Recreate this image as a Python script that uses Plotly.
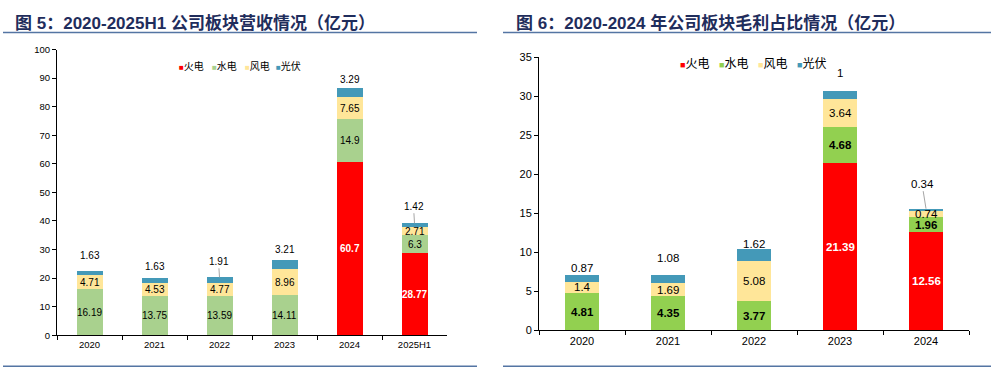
import plotly.graph_objects as go
import numpy as np

# ---------------- data ----------------
series_names = ["火电", "水电", "风电", "光伏"]

rev_categories = ["2020", "2021", "2022", "2023", "2024", "2025H1"]
rev_thermal = [0, 0, 0, 0, 60.7, 28.77]
rev_hydro = [16.19, 13.75, 13.59, 14.11, 14.9, 6.3]
rev_wind = [4.71, 4.53, 4.77, 8.96, 7.65, 2.71]
rev_solar = [1.63, 1.63, 1.91, 3.21, 3.29, 1.42]

gp_categories = ["2020", "2021", "2022", "2023", "2024"]
gp_thermal = [0, 0, 0, 21.39, 12.56]
gp_hydro = [4.81, 4.35, 3.77, 4.68, 1.96]
gp_wind = [1.4, 1.69, 5.08, 3.64, 0.74]
gp_solar = [0.87, 1.08, 1.62, 1, 0.34]

rev_y_ticks = list(range(0, 101, 10))
gp_y_ticks = list(range(0, 36, 5))

title_left = "图 5：2020-2025H1 公司板块营收情况（亿元）"
title_right = "图 6：2020-2024 年公司板块毛利占比情况（亿元）"

# ---------------- styles ----------------
W, H = 1001, 377
left_colors = ["#FF0000", "#A9D18E", "#FFE699", "#4499B8"]
right_colors = ["#FF0000", "#92D050", "#FFE699", "#4499B8"]
FONT = "Liberation Sans, Arial, Noto Sans CJK SC, sans-serif"
TITLE_COLOR = "#1F2D5C"
LINE_COLOR = "#5475A3"

# offsets (px above bar top) for solar labels, and leader-line flags / x offsets
left_solar_off = [15, 12, 16, 11, 9, 17]
left_solar_lead = [False, False, True, False, False, True]
left_solar_ax = [0, 0, -1, 0, 0, -1]
right_solar_off = [7, 17, 5, 18, 25]
right_solar_lead = [False, False, False, False, True]
right_solar_ax = [0, 0, 0, 0, -4]


def px_x(x):
    return x / W


def px_y(y):
    return 1 - y / H


fig = go.Figure()
annotations = []


def fmt(v):
    return "" if v == 0 else f"{v:g}"


def add_chart(cats, series, colors, xaxis, yaxis, xref, yref, fsize, hydro_bold):
    for i, (name, vals) in enumerate(zip(series_names, series)):
        fig.add_trace(go.Bar(
            x=cats, y=vals, name=name, marker=dict(color=colors[i], line=dict(width=0)),
            xaxis=xaxis, yaxis=yaxis, showlegend=False,
        ))
    # in-bar value labels (drawn above all bars)
    arr = np.array(series, dtype=float)
    base = np.vstack([np.zeros(arr.shape[1]), np.cumsum(arr, axis=0)[:-1]])
    for i in range(3):
        if i == 0:
            tcolor, bold = "white", True
        elif i == 1:
            tcolor, bold = "black", hydro_bold
        else:
            tcolor, bold = "black", False
        for idx, v in enumerate(arr[i]):
            if v == 0:
                continue
            txt = fmt(v)
            annotations.append(dict(
                x=idx, y=base[i][idx] + v / 2, xref=xref, yref=yref,
                text=f"<b>{txt}</b>" if bold else txt, showarrow=False,
                yanchor="middle", font=dict(size=fsize, color=tcolor, family=FONT),
            ))


add_chart(rev_categories, [rev_thermal, rev_hydro, rev_wind, rev_solar],
          left_colors, "x", "y", "x", "y", 10, False)
add_chart(gp_categories, [gp_thermal, gp_hydro, gp_wind, gp_solar],
          right_colors, "x2", "y2", "x2", "y2", 11.5, True)


def solar_labels(series, offs, leads, axs, xref, yref, fsize):
    totals = np.sum(np.array(series, dtype=float), axis=0)
    solar = series[3]
    for idx, (t, s, o, lead, ax) in enumerate(zip(totals, solar, offs, leads, axs)):
        if lead:
            annotations.append(dict(
                x=idx, y=t, xref=xref, yref=yref, text=f"{s:g}", showarrow=True,
                arrowhead=0, arrowwidth=1, arrowcolor="#A6A6A6", ax=ax, ay=-o,
                font=dict(size=fsize, color="black", family=FONT), standoff=0,
            ))
        else:
            annotations.append(dict(
                x=idx, y=t, xref=xref, yref=yref, text=f"{s:g}", showarrow=False,
                yanchor="middle", yshift=o,
                font=dict(size=fsize, color="black", family=FONT),
            ))


solar_labels([rev_thermal, rev_hydro, rev_wind, rev_solar],
             left_solar_off, left_solar_lead, left_solar_ax, "x", "y", 10)
solar_labels([gp_thermal, gp_hydro, gp_wind, gp_solar],
             right_solar_off, right_solar_lead, right_solar_ax, "x2", "y2", 11.5)

# legends (built from series names/colors)
left_leg_x = [177, 210, 243, 274]
right_leg_x = [678, 717, 756, 795]
for name, col, lx in zip(series_names, left_colors, left_leg_x):
    annotations.append(dict(
        x=px_x(lx), y=px_y(62), xref="paper", yref="paper", xanchor="left",
        yanchor="middle", showarrow=False,
        text=f'<span style="color:{col};font-size:8px">■</span>{name}',
        font=dict(size=10, color="black", family=FONT),
    ))
for name, col, lx in zip(series_names, right_colors, right_leg_x):
    annotations.append(dict(
        x=px_x(lx), y=px_y(60), xref="paper", yref="paper", xanchor="left",
        yanchor="middle", showarrow=False,
        text=f'<span style="color:{col};font-size:9px">■</span>{name}',
        font=dict(size=12, color="black", family=FONT),
    ))

# titles
for t, tx in [(title_left, 13), (title_right, 514)]:
    annotations.append(dict(
        x=px_x(tx), y=px_y(18), xref="paper", yref="paper", xanchor="left",
        yanchor="middle", showarrow=False, text=f"<b>{t}</b>",
        font=dict(size=17, color=TITLE_COLOR,
                  family="Liberation Sans, Arial, Noto Sans CJK SC"),
    ))

shapes = []
for x0, x1 in [(3, 477), (503, 991)]:
    for yy in (27.5, 372):
        shapes.append(dict(type="line", xref="paper", yref="paper",
                           x0=px_x(x0), x1=px_x(x1), y0=px_y(yy), y1=px_y(yy),
                           line=dict(color=LINE_COLOR, width=1.5)))

axis_common = dict(showline=True, linecolor="black", linewidth=1, ticks="outside",
                   tickcolor="black", ticklen=4, showgrid=False, zeroline=False)

fig.update_layout(
    width=W, height=H, margin=dict(l=0, r=0, t=0, b=0),
    paper_bgcolor="white", plot_bgcolor="white",
    barmode="stack", bargap=0.6, showlegend=False,
    font=dict(family=FONT, color="black"),
    xaxis=dict(domain=[px_x(57), px_x(447)], type="category", tickson="boundaries",
               range=[-0.5, len(rev_categories) - 0.5], autorange=False,
               anchor="y", tickfont=dict(size=9.5), **axis_common),
    yaxis=dict(domain=[px_y(340), px_y(45)], range=[0, 100], tickvals=rev_y_ticks,
               anchor="x", tickfont=dict(size=9.5), **axis_common),
    xaxis2=dict(domain=[px_x(539), px_x(969)], type="category", tickson="boundaries",
                range=[-0.5, len(gp_categories) - 0.5], autorange=False,
                anchor="y2", tickfont=dict(size=11), **axis_common),
    yaxis2=dict(domain=[px_y(335), px_y(53)], range=[0, 35], tickvals=gp_y_ticks,
                anchor="x2", tickfont=dict(size=11), **axis_common),
    annotations=annotations, shapes=shapes,
)

post = (
    "document.documentElement.style.margin='0';"
    "document.documentElement.style.overflow='hidden';"
    "document.body.style.margin='0';document.body.style.overflow='hidden';"
    "var d=document.getElementById('{plot_id}');"
    "d.style.position='fixed';d.style.top='0px';d.style.left='0px';"
)

fig.write_html("out.html", config={"displayModeBar": False}, post_script=post)
